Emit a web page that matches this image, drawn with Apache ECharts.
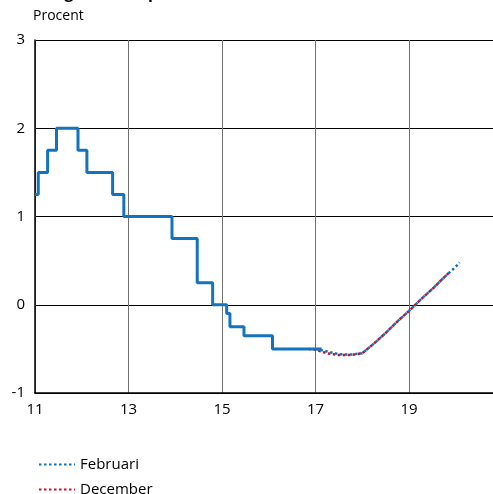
<!DOCTYPE html>
<html><head><meta charset="utf-8">
<script src="https://cdn.jsdelivr.net/npm/echarts@6/dist/echarts.min.js"></script>
<style>html,body{margin:0;padding:0;background:#fff}#c{width:493px;height:494px}</style>
</head><body><div id="c"></div>
<script>
const repoX = [11.0, 11.07, 11.27, 11.46, 11.92, 12.11, 12.66, 12.9, 13.93, 14.47, 14.8, 15.1, 15.17, 15.47, 16.08, 17.13];
const repoY = [1.25, 1.5, 1.75, 2.0, 1.75, 1.5, 1.25, 1.0, 0.75, 0.25, 0.0, -0.1, -0.25, -0.35, -0.5, -0.5];
const febX = [17.0, 17.25, 17.5, 17.75, 18.0, 18.25, 18.5, 18.75, 19.0, 19.25, 19.5, 19.75, 20.0, 20.08];
const febY = [-0.50, -0.53, -0.56, -0.565, -0.55, -0.44, -0.32, -0.19, -0.07, 0.06, 0.18, 0.31, 0.43, 0.48];
const decX = [16.85, 17.0, 17.25, 17.5, 17.75, 18.0, 18.25, 18.5, 18.75, 19.0, 19.25, 19.5, 19.75, 19.85];
const decY = [-0.50, -0.51, -0.55, -0.57, -0.57, -0.55, -0.44, -0.32, -0.19, -0.07, 0.06, 0.18, 0.31, 0.36];
const xTicks = [11, 13, 15, 17, 19, 21];
const yTicks = [-1, 0, 1, 2, 3];
const zip = (a, b) => a.map((v, i) => [v, b[i]]);
const FONT = 'Open Sans';
const chart = echarts.init(document.getElementById('c'));
chart.setOption({
  animation: false,
  backgroundColor: '#fff',
  textStyle: { fontFamily: FONT },
  title: { text: 'Diagram 1. Reporänta', left: 33, top: -20,
    textStyle: { fontFamily: FONT, fontSize: 16, fontWeight: 'bold', color: '#000' } },
  graphic: [{ type: 'text', left: 33, top: 9, style: { text: 'Procent', font: '14px "Open Sans"', fill: '#000' } }],
  grid: { left: 35, top: 40, height: 353, width: 467.5, containLabel: false, outerBoundsMode: 'none' },
  legend: {
    orient: 'vertical', left: 33, top: 452, height: 60, itemGap: 10, itemWidth: 36, itemHeight: 14,
    data: ['Februari', 'December'],
    itemStyle: { opacity: 0 },
    textStyle: { fontFamily: FONT, fontSize: 15, color: '#000' }
  },
  xAxis: {
    type: 'value', min: 11, max: 21, interval: 2,
    axisLine: { show: true, onZero: false, lineStyle: { color: '#000', width: 1.5 } },
    axisTick: { show: false },
    splitLine: { show: true, lineStyle: { color: '#707070', width: 1 } },
    axisLabel: { color: '#000', fontSize: 15, margin: 9, fontFamily: FONT,
      formatter: v => xTicks.includes(v) ? String(v) : '' }
  },
  yAxis: {
    type: 'value', min: -1, max: 3, interval: 1,
    axisLine: { show: true, onZero: false, lineStyle: { color: '#000', width: 1.5 } },
    axisTick: { show: false },
    splitLine: { show: true, lineStyle: { color: '#000', width: 1 } },
    axisLabel: { color: '#000', fontSize: 15, margin: 10, fontFamily: FONT, verticalAlign: 'middle',
      padding: [0, 0, 6, 0],
      formatter: v => yTicks.includes(v) ? String(v) : '' }
  },
  series: [
    { name: 'Reporänta', type: 'line', step: 'end', data: zip(repoX, repoY), showSymbol: false, symbol: 'none',
      lineStyle: { color: '#1473bd', width: 3 }, itemStyle: { color: '#1473bd' }, z: 3 },
    { name: 'December', type: 'line', data: zip(decX, decY), showSymbol: false, symbol: 'none',
      lineStyle: { color: '#c8102e', width: 2.5, type: [2.5, 2.5] }, itemStyle: { color: '#c8102e' }, z: 2 },
    { name: 'Februari', type: 'line', data: zip(febX, febY), showSymbol: false, symbol: 'none',
      lineStyle: { color: '#1473bd', width: 2.5, type: [2.5, 2.5] }, itemStyle: { color: '#1473bd' }, z: 4 }
  ]
});
</script></body></html>
